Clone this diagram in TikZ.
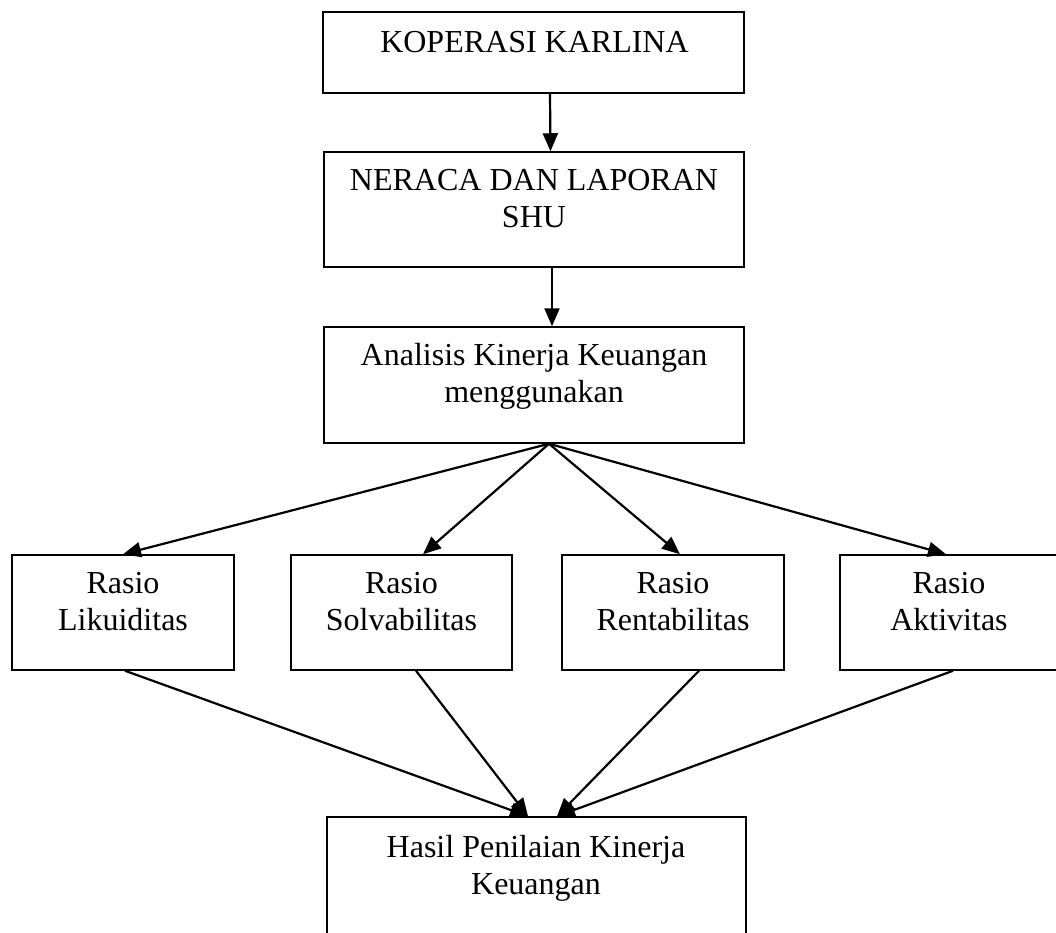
\documentclass[tikz,border=0pt]{standalone}
\usepackage{fontspec}
\setmainfont{Liberation Serif}
\usetikzlibrary{arrows.meta}
\begin{document}
\begin{tikzpicture}[x=1pt,y=-1pt,
  box/.style={draw, line width=1.5pt, inner sep=0pt},
  lbl/.style={font=\fontsize{32}{37}\selectfont, align=center, anchor=north, inner sep=0pt},
  conn/.style={line width=2.2pt, -{Triangle[length=18pt,width=15pt]}}]
\useasboundingbox (0,0) rectangle (1056,932);
% boxes
\node[box, minimum width=421pt, minimum height=81pt] (b1) at (533.5,52.5) {};
\node[box, minimum width=420pt, minimum height=115pt] (b2) at (534,209.5) {};
\node[box, minimum width=420pt, minimum height=116pt] (b3) at (534,385) {};
\node[box, minimum width=222pt, minimum height=115pt] (rA) at (123,612.5) {};
\node[box, minimum width=221pt, minimum height=115pt] (rB) at (401.5,612.5) {};
\node[box, minimum width=222pt, minimum height=115pt] (rC) at (673,612.5) {};
\node[box, minimum width=222pt, minimum height=115pt] (rD) at (951,612.5) {};
\node[box, minimum width=419pt, minimum height=117pt] (b4) at (536.5,875.5) {};
% texts
\node[lbl] (t1) at (534.5,26.1) {\strut KOPERASI KARLINA};
\node[lbl] (t2) at (534,164.1) {\strut NERACA DAN LAPORAN\\SHU};
\node[lbl] (t3) at (534,339.1) {\strut Analisis Kinerja Keuangan\\menggunakan};
\node[lbl] (tA) at (123,567.1) {\strut Rasio\\Likuiditas};
\node[lbl] (tB) at (401.5,567.1) {\strut Rasio\\Solvabilitas};
\node[lbl] (tC) at (673,567.1) {\strut Rasio\\Rentabilitas};
\node[lbl] (tD) at (949,567.1) {\strut Rasio\\Aktivitas};
\node[lbl] (t4) at (536,831.1) {\strut Hasil Penilaian Kinerja\\Keuangan};
% connectors
\draw[conn] ([xshift=16.5pt]b1.south) -- ([xshift=16.5pt]b2.north);
\draw[conn] ([xshift=18pt]b2.south) -- ([xshift=18pt]b3.north);
\draw[conn] ([xshift=15pt]b3.south) -- (rA.north);
\draw[conn] ([xshift=15pt]b3.south) -- ([xshift=21.5pt]rB.north);
\draw[conn] ([xshift=15pt]b3.south) -- ([xshift=7pt]rC.north);
\draw[conn] ([xshift=15pt]b3.south) -- ([xshift=-5pt]rD.north);
\draw[conn] ([xshift=2pt]rA.south) -- ([xshift=-8.5pt]b4.north);
\draw[conn] ([xshift=14.5pt]rB.south) -- ([xshift=-8.5pt]b4.north);
\draw[conn] ([xshift=26pt]rC.south) -- ([xshift=20.5pt]b4.north);
\draw[conn] ([xshift=2pt]rD.south) -- ([xshift=20.5pt]b4.north);
\end{tikzpicture}
\end{document}
